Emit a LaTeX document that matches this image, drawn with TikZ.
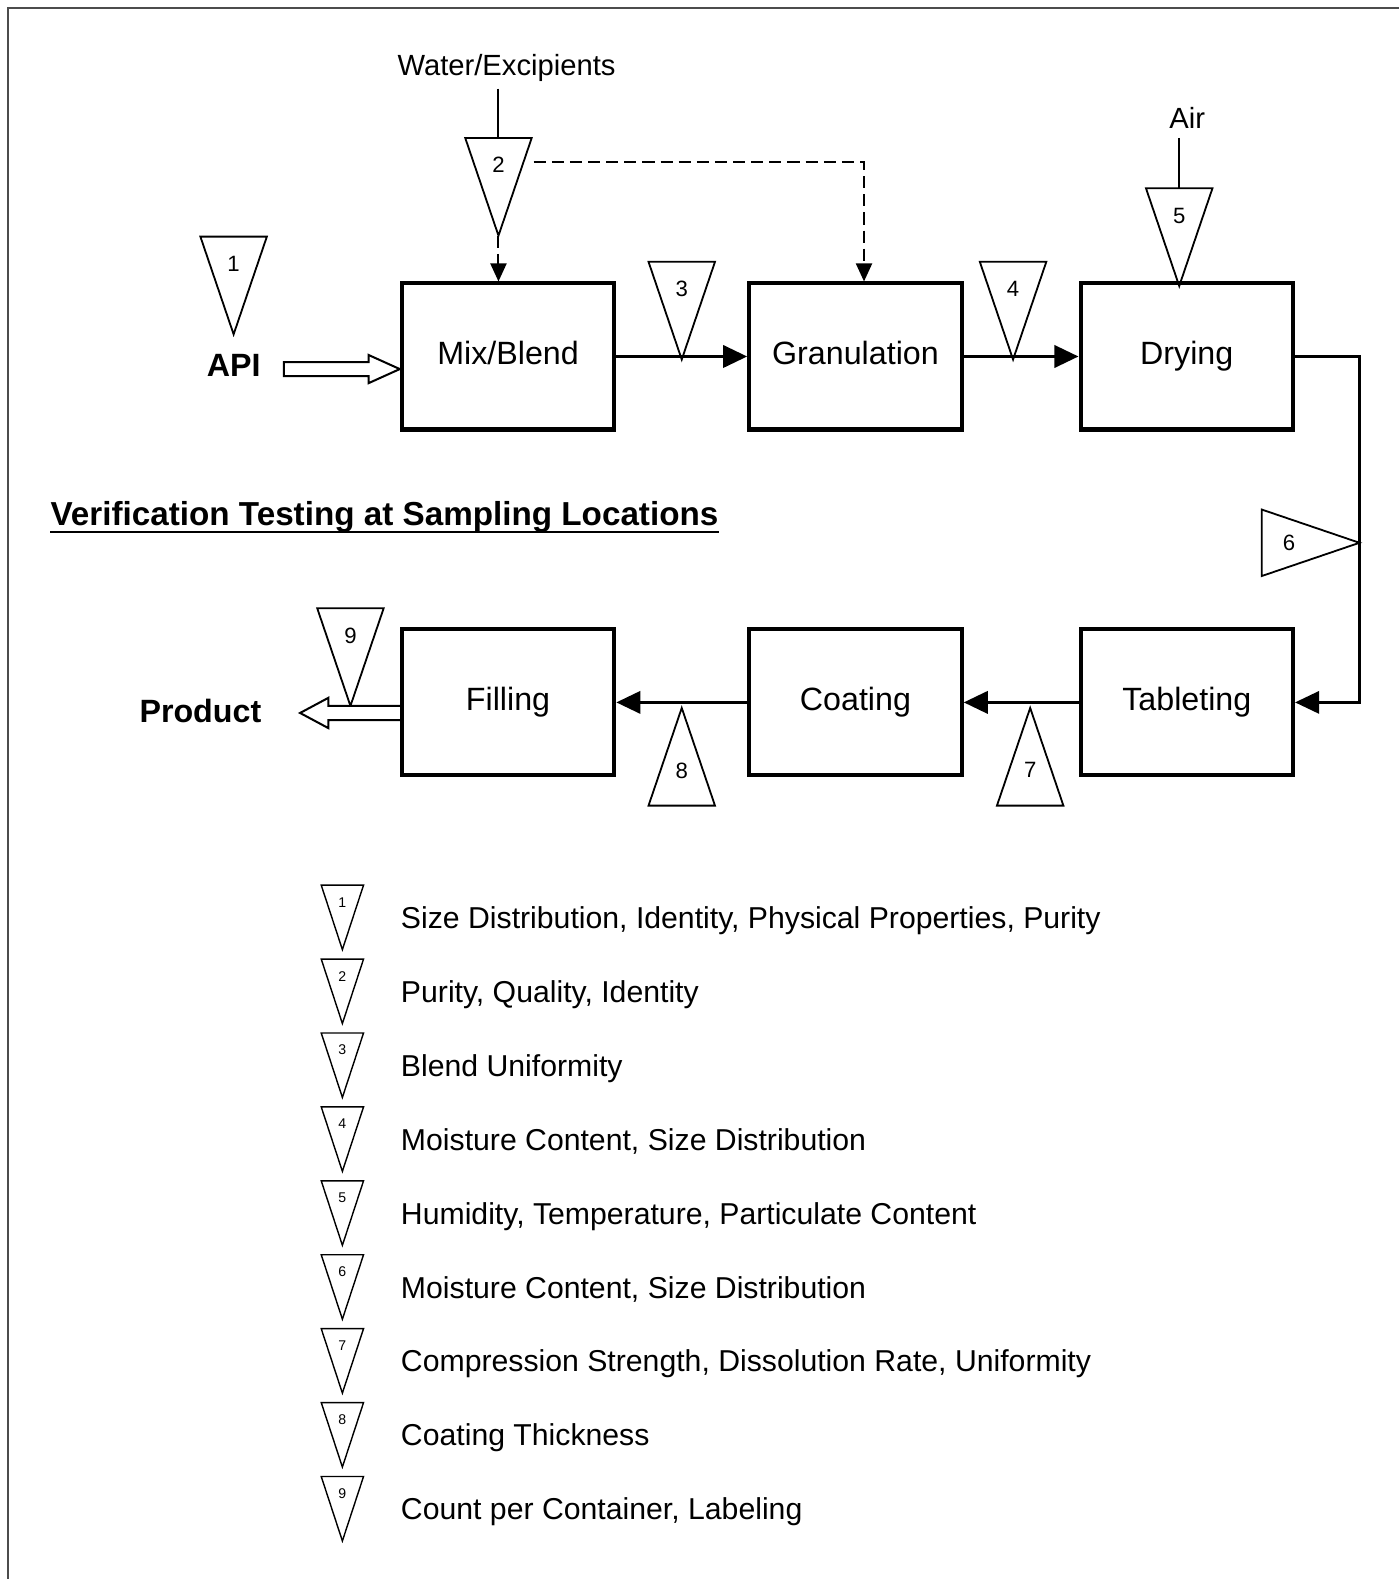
\documentclass[tikz,border=0pt]{standalone}
\usepackage{fontspec}
\setmainfont{Liberation Sans}
\usetikzlibrary{arrows.meta,calc}

\newcommand{\fsz}[1]{\fontsize{#1}{#1}\selectfont}

\tikzset{
  numoff/.store in=\numoff, numoff=27,
  stage/.style={draw, line width=4pt, minimum width=211pt, minimum height=145pt,
    inner sep=0pt, text height=23pt, text depth=7pt, font=\fsz{32}},
  flow/.style={line width=3.5pt, -{Triangle[length=24pt,width=22pt]}},
  loopflow/.style={line width=3pt, -{Triangle[length=24pt,width=22pt]}},
  dashflow/.style={line width=2pt, dash pattern=on 12pt off 6pt,
    -{Triangle[length=18pt,width=16pt]}},
  feed/.style={line width=2pt},
  hollow/.style={line width=2pt, line join=miter, fill=white},
  lbl/.style={inner sep=0pt, font=\fsz{29}},
  boldlbl/.style={inner sep=0pt, font=\bfseries\fsz{32}},
  legtext/.style={anchor=base west, inner sep=0pt, font=\fsz{30}},
  % sampling point marker: open triangle with its number near the wide end
  sample/.pic={
    \draw[line width=1.8pt, line join=miter] (-33,0) -- (33,0) -- (0,97) -- cycle;
    \node[inner sep=0pt, font=\fsz{22}] at (0,\numoff) {#1};
    \coordinate (-top) at (0,0);
    \coordinate (-tip) at (0,97);
  },
  legtri/.pic={
    \draw[line width=1.4pt, line join=miter] (-21,0) -- (21,0) -- (0,64) -- cycle;
    \node[inner sep=0pt, font=\fsz{14}] at (0,17) {#1};
  },
}

\begin{document}
\begin{tikzpicture}[x=1pt,y=-1pt]
\useasboundingbox (0,0) rectangle (1389,1568);

% page frame
\draw[line width=2.5pt, black!70] (8,1568) -- (8,8) -- (1389,8);

% process stages
\node[stage] (mix)  at (504.5,354) {Mix/Blend};
\node[stage] (gran) at (849.5,354) {Granulation};
\node[stage] (dry)  at (1178.5,354) {Drying};
\node[stage] (tab)  at (1178.5,697.5) {Tableting};
\node[stage] (coat) at (849.5,697.5) {Coating};
\node[stage] (fill) at (504.5,697.5) {Filling};

% inputs and outputs
\node[lbl] (water) at (503,67) {Water/Excipients};
\node[lbl] (air) at (1179,117) {Air};
\node[boldlbl] (api) at (232,363) {API};
\node[boldlbl] (product) at (199,706) {Product};

% sampling points
\pic (t1) at (232,235) {sample=1};
\pic (t2) at (495,137) {sample=2};
\pic (t3) at (677,260) {sample=3};
\pic (t4) at (1006,260) {sample=4};
\pic (t5) at (1171,187) {sample=5};
\pic[rotate=90] (t6) at (1253,539) {sample=6};
\pic[rotate=180, numoff=35] (t7) at (1023,800) {sample=7};
\pic[rotate=180, numoff=35] (t8) at (677,800) {sample=8};
\pic (t9) at (348,604) {sample=9};

% feeds
\coordinate (wfeed) at (495,88);
\draw[feed] (wfeed) -- (t2-top);
\coordinate (afeed) at (1171,137);
\draw[feed] (afeed) -- (t5-top);

% water/excipients to mixing and granulation
\draw[dashflow] (t2-tip) -- (t2-tip |- mix.north);
\coordinate (d0) at (530,161);
\draw[dashflow] (d0) -| ([xshift=8.5pt]gran.north);

% main flow
\draw[flow] (mix.east) -- (gran.west);
\draw[flow] (gran.east) -- (dry.west);
\coordinate (bend) at (1350,354);
\draw[loopflow] (dry.east) -- (bend) |- (tab.east);
\draw[flow] (tab.west) -- (coat.east);
\draw[flow] (coat.west) -- (fill.east);

% hollow arrows for API in and product out
\begin{scope}[shift={(mix.west)}]
  \draw[hollow] (-115,5.5) -- (-31,5.5) -- (-31,-1.5) -- (0,12.5) -- (-31,26.5)
    -- (-31,19.5) -- (-115,19.5) -- cycle;
\end{scope}
\begin{scope}[shift={(fill.west)}]
  \draw[hollow] (0,3.5) -- (-71,3.5) -- (-71,-4.5) -- (-99,10.5) -- (-71,25.5)
    -- (-71,17.5) -- (0,17.5);
\end{scope}

% heading
\node[anchor=west, inner sep=0pt, font=\bfseries\fsz{33}] (title) at (50,513)
  {Verification Testing at Sampling Locations};
\draw[line width=2.5pt] ([yshift=-7pt]title.base west) -- ([yshift=-7pt]title.base east);

% key to the sampling points
\foreach \i/\txt in {
  1/{Size Distribution, Identity, Physical Properties, Purity},
  2/{Purity, Quality, Identity},
  3/{Blend Uniformity},
  4/{Moisture Content, Size Distribution},
  5/{Humidity, Temperature, Particulate Content},
  6/{Moisture Content, Size Distribution},
  7/{Compression Strength, Dissolution Rate, Uniformity},
  8/{Coating Thickness},
  9/{Count per Container, Labeling}} {
  \pic (k\i) at (340,{879+(\i-1)*73.4}) {legtri=\i};
  \node[legtext] (l\i) at (398,{922+(\i-1)*73.4}) {\txt};
}
\end{tikzpicture}
\end{document}
